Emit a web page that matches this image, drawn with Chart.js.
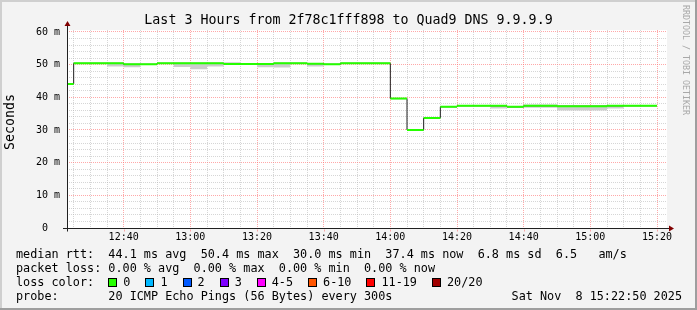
<!DOCTYPE html>
<html>
<head>
<meta charset="utf-8">
<script src="https://cdn.jsdelivr.net/npm/chart.js@4.4.0/dist/chart.umd.min.js"></script>
<style>
  html, body { margin: 0; padding: 0; background: #f3f3f3; }
  canvas { display: block; }
</style>
</head>
<body>
<canvas id="chart" width="697" height="310"></canvas>
<script>
// 5 minute rrd steps, value holds from start time until the next one
const startTimes = ['12:20','12:25','12:30','12:35','12:40','12:45','12:50','12:55','13:00','13:05',
                    '13:10','13:15','13:20','13:25','13:30','13:35','13:40','13:45','13:50','13:55',
                    '14:00','14:05','14:10','14:15','14:20','14:25','14:30','14:35','14:40','14:45',
                    '14:50','14:55','15:00','15:05','15:10','15:15'];
const endTime = '15:20';
const medianMs = [44.1, 50.4, 50.4, 50.4, 50.1, 50.1, 50.4, 50.4, 50.4, 50.4,
                  50.2, 50.2, 50.2, 50.4, 50.4, 50.3, 50.1, 50.4, 50.4, 50.4,
                  39.6, 30.0, 33.7, 37.1, 37.4, 37.4, 37.4, 37.1, 37.4, 37.4,
                  37.3, 37.3, 37.3, 37.4, 37.4, 37.4];
// smoke band edges (null = no spread on that side)
const smokeLowMs = [null, null, null, 49.4, 49.2, null, null, 49.3, 48.6, 49.4,
                    null, null, 49.2, 49.1, null, 49.4, null, null, null, null,
                    null, null, null, null, null, null, 36.6, 36.7, 36.8, 36.8,
                    36.0, 36.0, 36.0, 36.6, null, null];
const smokeHighMs = [null, null, null, null, null, null, null, null, null, null,
                     50.7, null, null, null, null, null, null, null, null, null,
                     null, null, null, null, null, null, null, null, 37.8, 37.8,
                     null, null, null, null, null, null];

const viewStart = '12:23';
const viewEnd = '15:23';
const xTickLabels = ['12:40','13:00','13:20','13:40','14:00','14:20','14:40','15:00','15:20'];
const yTickLabels = [0, 10, 20, 30, 40, 50, 60];

const title = 'Last 3 Hours from 2f78c1fff898 to Quad9 DNS 9.9.9.9';
const yTitle = 'Seconds';
const rttStats = ['44.1 ms avg', '50.4 ms max', '30.0 ms min', '37.4 ms now', '6.8 ms sd', '6.5   am/s'];
const lossStats = ['0.00 % avg', '0.00 % max', '0.00 % min', '0.00 % now'];
const lossLabels = ['0', '1', '2', '3', '4-5', '6-10', '11-19', '20/20'];
const lossColors = ['#26ff00', '#00b8ff', '#0059ff', '#7e00ff', '#ff00ff', '#ff5500', '#ff0000', '#a10000'];
const probeText = '20 ICMP Echo Pings (56 Bytes) every 300s';
const stampText = 'Sat Nov  8 15:22:50 2025';
const watermark = 'RRDTOOL / TOBI OETIKER';

const toMin = s => { const [h, m] = s.split(':').map(Number); return h * 60 + m; };
const fmtMin = v => { v = Math.round(v); return String(Math.floor(v / 60)).padStart(2, '0') + ':' + String(v % 60).padStart(2, '0'); };

const starts = startTimes.map(toMin);
const ends = starts.slice(1).concat(toMin(endTime));

const stepPts = arr => starts.map((x, i) => ({ x, y: arr[i] })).concat({ x: toMin(endTime), y: arr[arr.length - 1] });
const hiVals = medianMs.map((v, i) => smokeHighMs[i] ?? v);
const loVals = medianMs.map((v, i) => smokeLowMs[i] ?? v);

const greenPts = [];
starts.forEach((x, i) => {
  greenPts.push({ x, y: medianMs[i] }, { x: ends[i], y: medianMs[i] }, { x: ends[i], y: null });
});

// grid: minor every 5 min / 2 ms, major at the labelled values
const xMajor = xTickLabels.map(toMin);
const xMinor = [];
for (let m = Math.ceil(toMin(viewStart) / 5) * 5; m <= toMin(viewEnd); m += 5) {
  if (!xMajor.includes(m)) xMinor.push(m);
}
const yMinor = [];
for (let v = 0; v <= 60; v += 2) if (!yTickLabels.includes(v)) yMinor.push(v);

const MONO = '"DejaVu Sans Mono", monospace';
const PINK = 'rgba(255,110,110,0.6)';
const GRAY = 'rgba(180,180,180,0.55)';
const X_MIN = toMin(viewStart), X_MAX = toMin(viewEnd);
const Y_MIN = 0, Y_MAX = 60.6;

const rrdFrame = {
  id: 'rrdFrame',
  beforeDraw(chart) {
    const { ctx, chartArea: a, width: W, height: H } = chart;
    ctx.save();
    ctx.fillStyle = '#f3f3f3';
    ctx.fillRect(0, 0, W, H);
    ctx.fillStyle = '#cfcfcf';
    ctx.fillRect(0, 0, W, 2);
    ctx.fillRect(0, 0, 2, H);
    ctx.fillStyle = '#9e9e9e';
    ctx.fillRect(W - 2, 0, 2, H);
    ctx.fillRect(0, H - 2, W, 2);
    ctx.fillStyle = '#ffffff';
    ctx.fillRect(a.left, a.top, a.right - a.left, a.bottom - a.top);
    ctx.restore();
  },
  afterDraw(chart) {
    const { ctx, chartArea: a, width: W } = chart;
    const xs = chart.scales.x;
    const y0 = Math.round(chart.scales.y.getPixelForValue(0)) + 0.5;
    const xL = Math.round(a.left) + 0.5;
    ctx.save();
    // axes
    ctx.strokeStyle = '#202020';
    ctx.lineWidth = 1;
    ctx.beginPath();
    ctx.moveTo(a.left - 4, y0); ctx.lineTo(a.right + 2, y0);
    ctx.moveTo(xL, y0 + 3); ctx.lineTo(xL, a.top - 4);
    ctx.stroke();
    // small marks under the axis at the labelled times
    ctx.strokeStyle = PINK;
    ctx.beginPath();
    xMajor.forEach(m => {
      const px = Math.round(xs.getPixelForValue(m)) + 0.5;
      ctx.moveTo(px, y0 + 1); ctx.lineTo(px, y0 + 3);
    });
    ctx.stroke();
    ctx.fillStyle = '#800000';
    ctx.beginPath();
    ctx.moveTo(xL, a.top - 9); ctx.lineTo(xL - 3, a.top - 4); ctx.lineTo(xL + 3, a.top - 4); ctx.closePath();
    ctx.moveTo(a.right + 7, y0); ctx.lineTo(a.right + 2, y0 - 3); ctx.lineTo(a.right + 2, y0 + 3); ctx.closePath();
    ctx.fill();

    // title
    ctx.fillStyle = '#000';
    ctx.font = '13.3px ' + MONO;
    ctx.textAlign = 'center';
    ctx.textBaseline = 'alphabetic';
    ctx.fillText(title, W / 2, 24);

    // y title
    ctx.save();
    ctx.translate(14, 122);
    ctx.rotate(-Math.PI / 2);
    ctx.fillText(yTitle, 0, 0);
    ctx.restore();

    // watermark
    ctx.save();
    ctx.fillStyle = '#a8a8a8';
    ctx.font = '8.3px ' + MONO;
    ctx.translate(683, 60);
    ctx.rotate(Math.PI / 2);
    ctx.fillText(watermark, 0, 0);
    ctx.restore();

    // legend
    ctx.font = '11.8px ' + MONO;
    ctx.textAlign = 'left';
    const lx = 16;
    const cw = ctx.measureText('0').width;
    const valX = lx + 13 * cw;
    const base = [258, 272, 286, 299.5];
    ctx.fillText('median rtt:', lx, base[0]);
    ctx.fillText(rttStats.join('  '), valX, base[0]);
    ctx.fillText('packet loss:', lx, base[1]);
    ctx.fillText(lossStats.join('  '), valX, base[1]);
    ctx.fillText('loss color:', lx, base[2]);
    let bx = valX;
    lossLabels.forEach((lab, i) => {
      ctx.fillStyle = lossColors[i];
      ctx.fillRect(Math.round(bx) + 0.5, 278.5, 8, 8);
      ctx.strokeStyle = '#000';
      ctx.strokeRect(Math.round(bx) + 0.5, 278.5, 8, 8);
      ctx.fillStyle = '#000';
      ctx.fillText(lab, bx + 15, base[2]);
      bx += 15 + lab.length * cw + 15;
    });
    ctx.fillText('probe:', lx, base[3]);
    ctx.fillText(probeText, valX, base[3]);
    ctx.textAlign = 'right';
    ctx.fillText(stampText, 682, base[3]);
    ctx.restore();
  }
};

const tickFont = { family: MONO, size: 10 };

new Chart(document.getElementById('chart'), {
  type: 'line',
  data: {
    datasets: [
      {
        label: 'median',
        data: greenPts,
        borderColor: '#26ff00',
        borderWidth: 2,
        borderCapStyle: 'butt',
        pointRadius: 0,
        spanGaps: false,
        fill: false
      },
      {
        label: 'median step',
        data: stepPts(medianMs),
        borderColor: '#202020',
        borderWidth: 1,
        stepped: true,
        pointRadius: 0,
        fill: false
      },
      {
        label: 'smoke high',
        data: stepPts(hiVals),
        borderColor: 'transparent',
        borderWidth: 0,
        stepped: true,
        pointRadius: 0,
        fill: false
      },
      {
        label: 'smoke low',
        data: stepPts(loVals),
        borderColor: 'transparent',
        borderWidth: 0,
        stepped: true,
        pointRadius: 0,
        backgroundColor: '#cdcdcd',
        fill: '-1'
      }
    ]
  },
  options: {
    responsive: false,
    animation: false,
    devicePixelRatio: 1,
    layout: { padding: { left: 0, right: 30, top: 30, bottom: 64 } },
    plugins: { legend: { display: false }, tooltip: { enabled: false }, title: { display: false } },
    scales: {
      // minor grid (data scale)
      x: {
        type: 'linear', position: 'bottom', weight: 0,
        min: X_MIN, max: X_MAX,
        afterBuildTicks: s => { s.ticks = xMinor.map(value => ({ value })); },
        afterFit: s => { s.height = 0; },
        ticks: { display: false },
        grid: { drawTicks: false, color: GRAY, lineWidth: 1 },
        border: { display: false, dash: [1, 1] }
      },
      // major grid + labels
      xMajor: {
        type: 'linear', position: 'bottom', weight: 1,
        min: X_MIN, max: X_MAX,
        afterBuildTicks: s => { s.ticks = xMajor.map(value => ({ value })); },
        afterFit: s => { s.height = 18; },
        ticks: {
          autoSkip: false, maxRotation: 0, padding: 3, color: '#000', font: tickFont,
          callback: v => fmtMin(v)
        },
        grid: { drawTicks: false, color: PINK, lineWidth: 1 },
        border: { display: false, dash: [1, 1] }
      },
      y: {
        type: 'linear', position: 'left', weight: 0,
        min: Y_MIN, max: Y_MAX,
        afterBuildTicks: s => { s.ticks = yMinor.map(value => ({ value })); },
        afterFit: s => { s.width = 0; },
        ticks: { display: false },
        grid: { drawTicks: false, color: GRAY, lineWidth: 1 },
        border: { display: false, dash: [1, 1] }
      },
      yMajor: {
        type: 'linear', position: 'left', weight: 1,
        min: Y_MIN, max: Y_MAX,
        afterBuildTicks: s => { s.ticks = yTickLabels.map(value => ({ value })); },
        afterFit: s => { s.width = 67; },
        ticks: {
          autoSkip: false, padding: 7, color: '#000', font: tickFont,
          callback: v => v === 0 ? '0  ' : v + ' m'
        },
        grid: { drawTicks: false, color: PINK, lineWidth: 1 },
        border: { display: false, dash: [1, 1] }
      }
    }
  },
  plugins: [rrdFrame]
});
</script>
</body>
</html>
